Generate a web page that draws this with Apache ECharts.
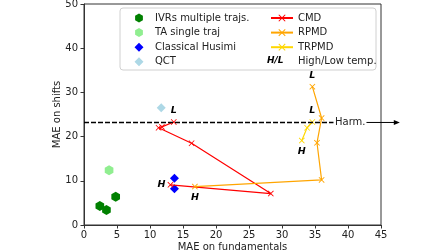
<!DOCTYPE html>
<html><head><meta charset="utf-8">
<script src="https://cdn.jsdelivr.net/npm/echarts@6/dist/echarts.min.js"></script>
<style>html,body{margin:0;padding:0;background:#fff}#c{width:448px;height:252px}</style>
</head><body><div id="c"></div>
<script>
// ---- data ----
const xTicks = [0, 5, 10, 15, 20, 25, 30, 35, 40, 45];
const yTicks = [0, 10, 20, 30, 40, 50];
const ivrs = [[2.4, 4.3], [3.4, 3.4], [4.8, 6.4]];
const taSingle = [[3.8, 12.4]];
const husimi = [[13.7, 10.6], [13.7, 8.2]];
const qct = [[11.7, 26.5]];
const cmdX = [13.1, 28.3, 16.3, 11.3, 11.8, 13.6];
const cmdY = [9.1, 7.1, 18.5, 22.0, 22.2, 23.3];
const cmdTemp = ['H', '', '', '', '', 'L'];
const rpmdX = [16.8, 36.0, 35.3, 36.0, 34.6];
const rpmdY = [8.7, 10.2, 18.6, 24.2, 31.3];
const rpmdTemp = ['H', '', '', '', 'L'];
const trpmdX = [33.0, 33.8, 34.6];
const trpmdY = [19.1, 22.0, 23.3];
const trpmdTemp = ['H', '', 'L'];
const harmonic = 23.2;
const harmLineEnd = 37.8;
const harmText = 'Harm.';

// ---- styles ----
const FONT = 'DejaVu Sans';
const HEX = 'path://M0,-1L0.866,-0.5L0.866,0.5L0,1L-0.866,0.5L-0.866,-0.5Z';
const XMARK = 'path://M0,1L1,0L5,4L9,0L10,1L6,5L10,9L9,10L5,6L1,10L0,9L4,5Z';
const DIAMOND_ICON = 'path://M0,4.5L0.01,4.5L0,4.51Z M6.5,4.5L11,0L15.5,4.5L11,9Z M21.99,4.5L22,4.5L22,4.51Z';

function tempSeries(name, xs, ys, temps, color, hPos) {
  return {
    name, type: 'line', color,
    symbol: XMARK, symbolSize: 6, symbolKeepAspect: true,
    lineStyle: { color, width: 1.2 },
    itemStyle: { color },
    data: xs.map((x, i) => {
      const t = temps[i];
      const d = { value: [x, ys[i]] };
      if (t) {
        d.label = {
          show: true, formatter: t,
          position: t === 'H' ? hPos : 'top',
          distance: t === 'H' && hPos === 'left' ? 2 : 3,
          fontFamily: FONT, fontSize: 9.5, fontWeight: 'bold', fontStyle: 'italic', color: '#000'
        };
      }
      return d;
    }),
    z: 3
  };
}

const chart = echarts.init(document.getElementById('c'), null, { renderer: 'canvas' });
const axisCommon = {
  axisLine: { show: true, onZero: false, lineStyle: { color: '#333', width: 1 } },
  axisTick: { show: true, inside: false, length: 3.5, lineStyle: { color: '#333' } },
  splitLine: { show: false },
  axisLabel: { fontFamily: FONT, fontSize: 10, color: '#222' },
  nameTextStyle: { fontFamily: FONT, fontSize: 10, color: '#222' },
  nameLocation: 'middle',
  nameMoveOverlap: false
};
const legendText = { fontFamily: FONT, fontSize: 10, color: '#222' };
const option = {
  animation: false,
  backgroundColor: '#fff',
  grid: { left: 84, right: 67, top: 4, bottom: 27, containLabel: false, outerBoundsMode: 'none', show: true, borderColor: '#333', borderWidth: 1, backgroundColor: 'transparent' },
  xAxis: Object.assign({}, axisCommon, {
    type: 'value', min: xTicks[0], max: xTicks[xTicks.length - 1], interval: xTicks[1] - xTicks[0],
    name: 'MAE on fundamentals', nameGap: 17,
    axisLabel: Object.assign({}, axisCommon.axisLabel, { margin: 5 })
  }),
  yAxis: Object.assign({}, axisCommon, {
    type: 'value', min: yTicks[0], max: yTicks[yTicks.length - 1], interval: yTicks[1] - yTicks[0],
    name: 'MAE on shifts', nameGap: 22,
    axisLabel: Object.assign({}, axisCommon.axisLabel, { margin: 6 })
  }),
  legend: [
    {
      orient: 'vertical', left: 123, top: 8, itemWidth: 22, itemHeight: 9, itemGap: 4.6,
      textStyle: legendText,
      data: ['IVRs multiple trajs.', 'TA single traj',
        { name: 'Classical Husimi', icon: DIAMOND_ICON }, { name: 'QCT', icon: DIAMOND_ICON }]
    },
    {
      orient: 'vertical', left: 265, top: 8, itemWidth: 22, itemHeight: 9, itemGap: 4.6,
      textStyle: legendText,
      data: ['CMD', 'RPMD', 'TRPMD', { name: 'High/Low temp.', icon: 'rect', itemStyle: { color: 'rgba(0,0,0,0)', opacity: 0 } }]
    }
  ],
  series: [
    { name: 'IVRs multiple trajs.', type: 'scatter', symbol: HEX, symbolSize: 10, symbolKeepAspect: true, itemStyle: { color: '#008000', opacity: 1 }, data: ivrs },
    { name: 'TA single traj', type: 'scatter', symbol: HEX, symbolSize: 10, symbolKeepAspect: true, itemStyle: { color: '#90EE90', opacity: 1 }, data: taSingle },
    { name: 'Classical Husimi', type: 'scatter', symbol: 'diamond', symbolSize: 9, symbolKeepAspect: true, itemStyle: { color: '#0000FF', opacity: 1 }, data: husimi },
    { name: 'QCT', type: 'scatter', symbol: 'diamond', symbolSize: 9, symbolKeepAspect: true, itemStyle: { color: '#ADD8E6', opacity: 1 }, data: qct },
    tempSeries('CMD', cmdX, cmdY, cmdTemp, '#FF0000', 'left'),
    tempSeries('RPMD', rpmdX, rpmdY, rpmdTemp, '#FFA500', 'bottom'),
    tempSeries('TRPMD', trpmdX, trpmdY, trpmdTemp, '#FFD700', 'bottom'),
    {
      name: 'High/Low temp.', type: 'line', data: [], symbol: 'none',
      markLine: {
        silent: true, symbol: ['none', 'none'], label: { show: false },
        lineStyle: { color: '#000', width: 1.3, type: [5, 2] },
        data: [[{ coord: [xTicks[0], harmonic] }, { coord: [harmLineEnd, harmonic] }]]
      }
    }
  ]
};
chart.setOption(option);

const pEnd = chart.convertToPixel({ gridIndex: 0 }, [harmLineEnd, harmonic]);
const pArrow = chart.convertToPixel({ gridIndex: 0 }, [47.4, harmonic]);
chart.setOption({
  graphic: [
    { type: 'rect', z: 0, shape: { x: 120, y: 8, width: 256, height: 62, r: 3 }, style: { fill: 'rgba(255,255,255,0.85)', stroke: '#d0d0d0', lineWidth: 1 } },
    { type: 'text', z: 10, x: 267, y: 61, style: { text: 'H/L', font: 'italic bold 9px "DejaVu Sans"', fill: '#000', verticalAlign: 'middle' } },
    { type: 'text', z: 10, x: pEnd[0] + 1.5, y: pEnd[1], style: { text: harmText, font: '10px "DejaVu Sans"', fill: '#222', verticalAlign: 'middle', textAlign: 'left' } },
    { type: 'line', z: 10, shape: { x1: pEnd[0] + 33, y1: pEnd[1], x2: pArrow[0], y2: pArrow[1] }, style: { stroke: '#000', lineWidth: 1 } },
    { type: 'polygon', z: 10, shape: { points: [[pArrow[0] + 3, pArrow[1]], [pArrow[0] - 3, pArrow[1] - 2.5], [pArrow[0] - 3, pArrow[1] + 2.5]] }, style: { fill: '#000' } }
  ]
});
</script></body></html>
